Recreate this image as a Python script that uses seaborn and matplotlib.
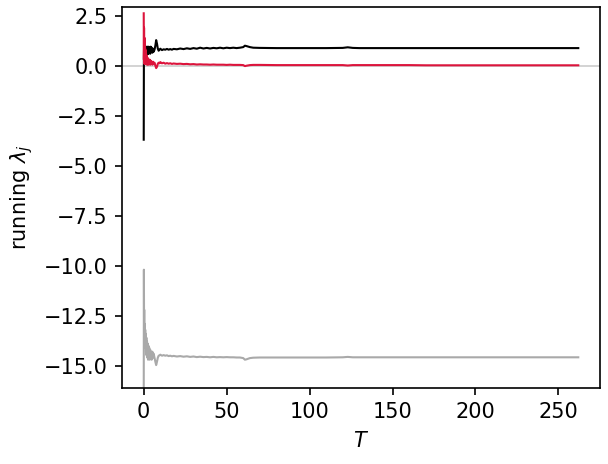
import numpy as np
import pandas as pd
import matplotlib
matplotlib.use("Agg")
import matplotlib.pyplot as plt
import seaborn as sns

T = [0.0, 0.1, 0.2, 0.3, 0.4, 0.5, 0.6, 0.7, 0.8, 0.9,
     1.0, 1.2, 1.4, 1.6, 1.8, 2.0, 2.2, 2.4, 2.6, 2.8, 3.0,
     3.3, 3.6, 3.9, 4.2, 4.5, 4.8,
     5.2, 5.6, 6.0,
     6.5, 7.0, 7.5, 8.0, 8.5, 9.0, 9.5, 10.0,
     11, 12, 13, 14, 15, 16, 17, 18,
     20, 22, 24, 26, 28, 30, 32, 34, 36, 38, 40, 42, 44, 46, 48, 50, 52, 54, 56, 58,
     60, 61, 62, 64, 66,
     70, 80, 90, 100, 110, 120,
     123, 126, 130,
     140, 150, 160, 170, 180, 190, 200, 210, 220, 230, 240, 250,
     262]

lam1 = [-3.7, 0.4, 0.9, 0.2, 0.8, 0.3, 0.9, 0.4, 0.8, 0.5,
        0.9, 0.5, 0.95, 0.6, 0.9, 0.55, 0.95, 0.6, 0.9, 0.6, 0.95,
        0.65, 0.9, 0.6, 0.95, 0.7, 0.9,
        0.65, 0.85, 0.7,
        0.8, 1.0, 1.28, 1.1, 0.85, 0.75, 0.8, 0.85,
        0.78, 0.82, 0.8, 0.84, 0.8, 0.83, 0.8, 0.84,
        0.82, 0.86, 0.83, 0.87, 0.84, 0.88, 0.85, 0.9, 0.86, 0.89, 0.86, 0.89, 0.87, 0.9, 0.87, 0.9, 0.88, 0.9, 0.88, 0.9,
        0.93, 1.0, 0.98, 0.93, 0.9,
        0.89, 0.88, 0.88, 0.88, 0.88, 0.89,
        0.92, 0.89, 0.88,
        0.88, 0.88, 0.88, 0.88, 0.88, 0.88, 0.88, 0.88, 0.88, 0.88, 0.88, 0.88,
        0.88]

lam2 = [2.62, 0.3, 1.9, 0.1, 1.4, 0.2, 1.1, 0.1, 0.9, 0.15,
        0.8, 0.1, 0.6, 0.1, 0.5, 0.05, 0.4, 0.1, 0.35, 0.05, 0.3,
        0.1, 0.3, 0.05, 0.25, 0.1, 0.2,
        0.05, 0.2, 0.1,
        0.15, 0.0, -0.12, -0.05, 0.1, 0.15, 0.12, 0.18,
        0.12, 0.15, 0.1, 0.13, 0.1, 0.12, 0.09, 0.11,
        0.09, 0.1, 0.08, 0.09, 0.07, 0.08, 0.06, 0.07, 0.06, 0.06, 0.05, 0.06, 0.05, 0.05, 0.05, 0.04, 0.05, 0.04, 0.04, 0.04,
        0.03, -0.02, 0.0, 0.03, 0.04,
        0.04, 0.03, 0.03, 0.03, 0.03, 0.03,
        0.01, 0.03, 0.03,
        0.03, 0.03, 0.03, 0.02, 0.02, 0.02, 0.02, 0.02, 0.02, 0.02, 0.02, 0.02,
        0.02]

lam3 = [-17.0, -10.2, -13.0, -12.2, -13.4, -12.9, -13.6, -13.0, -13.9, -13.2,
        -14.1, -13.4, -14.4, -13.6, -14.5, -13.8, -14.6, -13.9, -14.7, -14.0, -14.6,
        -14.1, -14.7, -14.2, -14.6, -14.3, -14.7,
        -14.3, -14.6, -14.4,
        -14.6, -14.8, -14.97, -14.8, -14.6, -14.5, -14.48, -14.45,
        -14.5, -14.47, -14.5, -14.48, -14.52, -14.5, -14.53, -14.51,
        -14.54, -14.52, -14.55, -14.53, -14.56, -14.54, -14.57, -14.55, -14.57, -14.56, -14.58, -14.56, -14.58, -14.57, -14.58, -14.57, -14.58, -14.58, -14.59, -14.59,
        -14.62, -14.7, -14.68, -14.62, -14.6,
        -14.59, -14.59, -14.59, -14.59, -14.59, -14.58,
        -14.56, -14.58, -14.58,
        -14.58, -14.58, -14.58, -14.58, -14.58, -14.58, -14.58, -14.58, -14.58, -14.58, -14.58, -14.58,
        -14.58]

series_names = ["lambda_3", "lambda_1", "lambda_2"]
series_colors = {"lambda_1": "black", "lambda_2": "crimson", "lambda_3": "darkgray"}

df = pd.concat([
    pd.DataFrame({"T": T, "value": lam3, "series": "lambda_3"}),
    pd.DataFrame({"T": T, "value": lam1, "series": "lambda_1"}),
    pd.DataFrame({"T": T, "value": lam2, "series": "lambda_2"}),
], ignore_index=True)

fig = plt.figure(figsize=(608 / 150, 464 / 150), dpi=150)
ax = fig.add_axes([122 / 608, 1 - 387.7 / 464, (600 - 122) / 608, (387.7 - 6.7) / 464])

ax.axhline(0, color="#cccccc", lw=0.8, zorder=0)
sns.lineplot(data=df, x="T", y="value", hue="series", hue_order=series_names,
             palette=series_colors, estimator=None, sort=False, lw=1.0,
             legend=False, ax=ax)

ax.set_ylim(-16.1, 2.95)
ax.set_xlim(-13.1, 275.1)
ax.set_xticks([0, 50, 100, 150, 200, 250])
ax.set_yticks([2.5, 0.0, -2.5, -5.0, -7.5, -10.0, -12.5, -15.0])
ax.set_xlabel("$T$")
ax.set_ylabel("running $\\lambda_j$")

fig.savefig("out.png", dpi=150)
